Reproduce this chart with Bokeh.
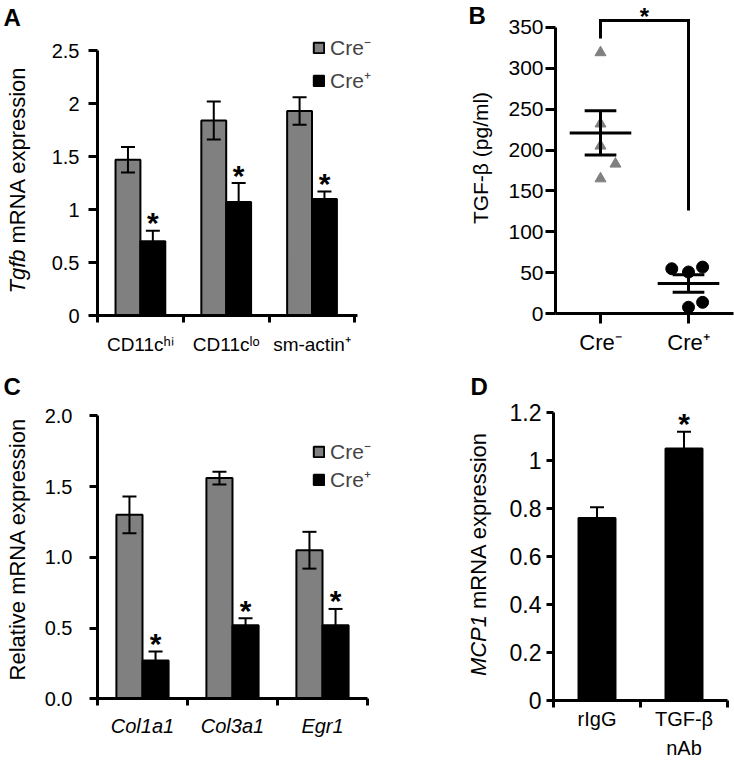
import math
from bokeh.plotting import figure
from bokeh.layouts import row, column
from bokeh.models import Range1d, FixedTicker, Whisker, TeeHead, ColumnDataSource, Label
from bokeh.core.properties import value
from bokeh.embed import file_html
from bokeh.resources import INLINE

FONT = "Liberation Sans"
GRAY = "#808080"

# ---------------- data ----------------
# Panel A
a_categories = ["CD11c\u02b0\u2071", "CD11c\u02e1\u1d52", "sm-actin\u207a"]
a_cre_neg = [1.47, 1.84, 1.93]
a_cre_neg_err = [0.12, 0.18, 0.13]
a_cre_pos = [0.70, 1.07, 1.10]
a_cre_pos_err = [0.10, 0.18, 0.07]
a_yticks = [0, 0.5, 1, 1.5, 2, 2.5]
a_ytick_labels = ["0", "0.5", "1", "1.5", "2", "2.5"]

# Panel B
b_categories = ["Cre\u207b", "Cre\u207a"]
b_cre_neg = [319, 232, 205, 183, 165]
b_cre_neg_jitter = [0, 0, 0, 0.17, 0]
b_cre_pos = [55, 51, 57, 8, 14]
b_cre_pos_jitter = [-0.19, 0, 0.16, 0, 0.16]
b_yticks = [0, 50, 100, 150, 200, 250, 300, 350]
b_bracket = [336, 358, 126]  # left end, top, right end

# Panel C
c_categories = ["Col1a1", "Col3a1", "Egr1"]
c_cre_neg = [1.30, 1.56, 1.05]
c_cre_neg_err = [0.13, 0.045, 0.13]
c_cre_pos = [0.27, 0.52, 0.52]
c_cre_pos_err = [0.065, 0.05, 0.115]
c_yticks = [0, 0.5, 1.0, 1.5, 2.0]
c_ytick_labels = ["0.0", "0.5", "1.0", "1.5", "2.0"]

# Panel D
d_categories = ["rIgG", "TGF-\u03b2\nnAb"]
d_values = [0.76, 1.05]
d_err = [0.045, 0.07]
d_yticks = [0, 0.2, 0.4, 0.6, 0.8, 1.0, 1.2]
d_ytick_labels = ["0", "0.2", "0.4", "0.6", "0.8", "1", "1.2"]

legend_labels = ["Cre\u207b", "Cre\u207a"]

STAR_SIZE = "30px"
STAR_OFF = -8


# ---------------- helpers ----------------
def base_fig(w, h, ax_px, ay_px, ppu_x, ppu_y, x_at_axis, xbounds, ybounds):
    """Frame covers the whole figure; axes are pinned at data positions."""
    xr = (x_at_axis - ax_px / ppu_x, x_at_axis + (w - ax_px) / ppu_x)
    yr = (-(h - ay_px) / ppu_y, ay_px / ppu_y)
    p = figure(width=w, height=h, x_range=Range1d(*xr), y_range=Range1d(*yr),
               output_backend="svg", toolbar_location=None, tools="",
               min_border_left=0, min_border_right=0, min_border_top=0, min_border_bottom=0)
    p.outline_line_color = None
    p.xgrid.visible = False
    p.ygrid.visible = False
    p.background_fill_color = "white"
    p.border_fill_color = "white"
    p.xaxis[0].fixed_location = 0
    p.yaxis[0].fixed_location = x_at_axis
    p.xaxis[0].bounds = xbounds
    p.yaxis[0].bounds = ybounds
    for ax in (p.xaxis[0], p.yaxis[0]):
        ax.axis_line_width = 3
        ax.axis_line_color = "black"
        ax.major_tick_line_width = 3
        ax.major_tick_line_color = "black"
        ax.major_tick_in = 0
        ax.minor_tick_line_color = "black"
        ax.minor_tick_line_width = 3
        ax.minor_tick_in = 0
        ax.minor_tick_out = 0
        ax.major_label_text_font = FONT
        ax.major_label_text_color = "black"
    return p


def lab(p, text, fx, fy, size="22px", style="normal", align="left", baseline="middle", angle=0.0):
    p.add_layout(Label(x=fx, y=p.height - fy, x_units="screen", y_units="screen", text=text,
                       text_font=FONT, text_font_size=size, text_font_style=style,
                       text_align=align, text_baseline=baseline, angle=angle,
                       text_color="black"))


def whiskers(p, xs, lo, hi, both):
    src = ColumnDataSource(dict(x=xs, lo=lo, hi=hi))
    w = Whisker(source=src, base="x", lower="lo", upper="hi", line_width=2, line_color="black",
                upper_head=TeeHead(size=14, line_width=2, line_color="black"),
                lower_head=TeeHead(size=14, line_width=2, line_color="black") if both else None,
                level="overlay")
    p.add_layout(w)


def stars(p, xs, ys, size=STAR_SIZE, yoff=STAR_OFF, baseline="alphabetic"):
    p.text(x=xs, y=ys, text=["*"] * len(xs), text_font=value(FONT), text_font_style="bold",
           text_font_size=size, text_align="center", text_baseline=baseline,
           text_color="black", y_offset=yoff)


def grouped(p, n, neg, neg_err, pos, pos_err, w):
    centers = [i + 0.5 for i in range(n)]
    xn = [c - w / 2 for c in centers]
    xp = [c + w / 2 for c in centers]
    p.vbar(x=xn, top=neg, bottom=0, width=w, fill_color=GRAY, line_color="black",
           line_width=2, legend_label=legend_labels[0])
    p.vbar(x=xp, top=pos, bottom=0, width=w, fill_color="black", line_color="black",
           line_width=2, legend_label=legend_labels[1])
    whiskers(p, xn, [v - e for v, e in zip(neg, neg_err)], [v + e for v, e in zip(neg, neg_err)], True)
    whiskers(p, xp, list(pos), [v + e for v, e in zip(pos, pos_err)], False)
    stars(p, xp, [v + e for v, e in zip(pos, pos_err)])
    return centers


def style_legend(p, loc, spacing):
    lg = p.legend[0]
    lg.location = loc
    lg.background_fill_alpha = 0
    lg.border_line_alpha = 0
    lg.padding = 0
    lg.margin = 0
    lg.glyph_width = 13
    lg.glyph_height = 13
    lg.label_height = 20
    lg.label_text_font = FONT
    lg.label_text_font_size = "21px"
    lg.label_standoff = 5
    lg.spacing = spacing


def cat_xaxis(p, n, labels, size, standoff, italic=False):
    ax = p.xaxis[0]
    centers = [i + 0.5 for i in range(n)]
    ax.ticker = FixedTicker(ticks=centers, minor_ticks=list(range(n + 1)))
    ax.major_tick_out = 0
    ax.minor_tick_out = 7
    ax.major_label_overrides = {c: l for c, l in zip(centers, labels)}
    ax.major_label_text_font_size = size
    ax.major_label_standoff = standoff
    if italic:
        ax.major_label_text_font_style = "italic"


def num_yaxis(p, ticks, labels, size, tick_out, standoff):
    ax = p.yaxis[0]
    ax.ticker = FixedTicker(ticks=ticks)
    ax.major_tick_out = tick_out
    ax.major_label_standoff = standoff
    ax.major_label_text_font_size = size
    if labels is not None:
        ax.major_label_overrides = {t: l for t, l in zip(ticks, labels)}


# ---------------- Panel A ----------------
pA = base_fig(385, 372, 97, 315, 260 / 3.03, 106, 0, (0, 3.03), (0, 2.5))
grouped(pA, 3, a_cre_neg, a_cre_neg_err, a_cre_pos, a_cre_pos_err, 0.29)
cat_xaxis(pA, 3, a_categories, "19px", 11)
num_yaxis(pA, a_yticks, a_ytick_labels, "20px", 9, 9)
style_legend(pA, (312, 278), 5)
lab(pA, "Tgfb", 17, 249, style="italic", align="right", angle=math.pi / 2)
lab(pA, "mRNA expression", 17, 243, align="left", angle=math.pi / 2)
lab(pA, "A", 3, 3, size="24px", style="bold", baseline="top")

# ---------------- Panel B ----------------
b_x0 = 1 - 45 / 88
pB = base_fig(349, 372, 170, 313.3, 88, 0.819, b_x0, (b_x0, b_x0 + 178 / 88), (0, 350))
b_pos = [1, 2]
pB.scatter(x=[b_pos[0] + j for j in b_cre_neg_jitter], y=b_cre_neg, marker="triangle",
           size=11, fill_color=GRAY, line_color=GRAY)
pB.scatter(x=[b_pos[1] + j for j in b_cre_pos_jitter], y=b_cre_pos, marker="circle",
           size=12, fill_color="black", line_color="black")


def mean_sem(vals):
    m = sum(vals) / len(vals)
    sd = math.sqrt(sum((v - m) ** 2 for v in vals) / (len(vals) - 1))
    return m, sd / math.sqrt(len(vals))


stats = [mean_sem(b_cre_neg), mean_sem(b_cre_pos)]
means = [s[0] for s in stats]
sems = [s[1] for s in stats]
hi = [m + s for m, s in zip(means, sems)]
lo = [m - s for m, s in zip(means, sems)]
pB.segment(x0=[c - 0.35 for c in b_pos], x1=[c + 0.35 for c in b_pos], y0=means, y1=means,
           line_width=3, line_color="black")
pB.segment(x0=[c - 0.18 for c in b_pos] * 2, x1=[c + 0.18 for c in b_pos] * 2,
           y0=hi + lo, y1=hi + lo, line_width=3, line_color="black")
pB.segment(x0=b_pos, x1=b_pos, y0=lo, y1=hi, line_width=3, line_color="black")
pB.line(x=[b_pos[0], b_pos[0], b_pos[1], b_pos[1]],
        y=[b_bracket[0], b_bracket[1], b_bracket[1], b_bracket[2]],
        line_width=3, line_color="black", line_join="miter")
stars(pB, [(b_pos[0] + b_pos[1]) / 2], [b_bracket[1]], size="24px", yoff=-18, baseline="top")

axb = pB.xaxis[0]
axb.ticker = FixedTicker(ticks=b_pos)
axb.major_tick_out = 10
axb.major_label_overrides = {c: l for c, l in zip(b_pos, b_categories)}
axb.major_label_text_font_size = "22px"
axb.major_label_standoff = 6
num_yaxis(pB, b_yticks, None, "21px", 10, 2)
lab(pB, "TGF-\u03b2 (pg/ml)", 95, 157.5, size="21px", align="center", angle=math.pi / 2)
lab(pB, "B", 83, 1, size="24px", style="bold", baseline="top")

# ---------------- Panel C ----------------
pC = base_fig(385, 392, 97, 326.3, 90, 141.5, 0, (0, 3), (0, 2.0))
grouped(pC, 3, c_cre_neg, c_cre_neg_err, c_cre_pos, c_cre_pos_err, 0.29)
cat_xaxis(pC, 3, c_categories, "20px", 9, italic=True)
num_yaxis(pC, c_yticks, c_ytick_labels, "20px", 8, 17)
style_legend(pC, (312, 271), 0)
lab(pC, "Relative mRNA expression", 16.5, 176.5, align="center", angle=math.pi / 2)
lab(pC, "C", 3, 0, size="24px", style="bold", baseline="top")

# ---------------- Panel D ----------------
pD = base_fig(349, 392, 168, 328, 87, 240, 0, (0, 2), (0, 1.2))
d_x = [i + 0.5 for i in range(len(d_values))]
pD.vbar(x=d_x, top=d_values, bottom=0, width=0.425, fill_color="black", line_color="black",
        line_width=2)
whiskers(pD, d_x, list(d_values), [v + e for v, e in zip(d_values, d_err)], False)
stars(pD, [d_x[1]], [d_values[1] + d_err[1]])
cat_xaxis(pD, 2, d_categories, "20px", 0)
pD.xaxis[0].major_label_text_line_height = 1.35
num_yaxis(pD, d_yticks, d_ytick_labels, "23px", 7, 5)
lab(pD, "MCP1", 93, 242.5, style="italic", align="right", angle=math.pi / 2)
lab(pD, "mRNA expression", 93, 236.5, align="left", angle=math.pi / 2)
lab(pD, "D", 85, 0, size="24px", style="bold", baseline="top")

layout = column(row(pA, pB), row(pC, pD))
open("out.html", "w").write(file_html(layout, INLINE))
